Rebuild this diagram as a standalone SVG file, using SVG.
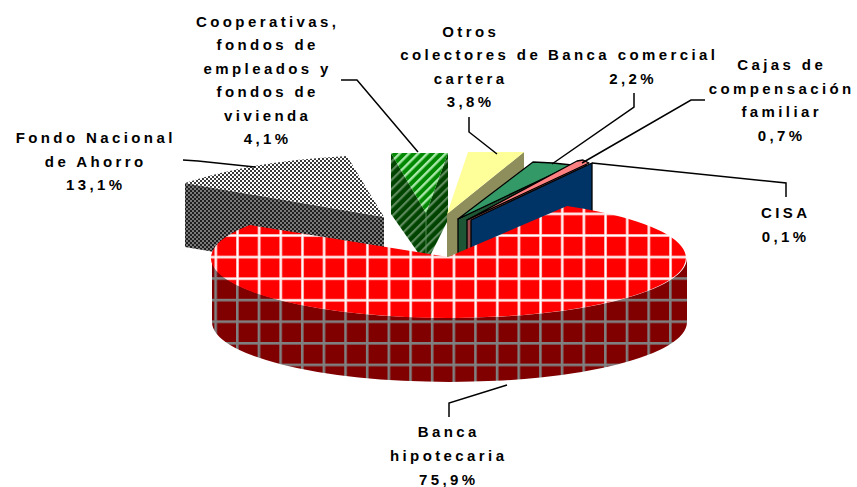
<svg xmlns="http://www.w3.org/2000/svg" width="857" height="487" viewBox="0 0 857 487">
  <style>
    .lbl { font-family: "Liberation Sans", Arial, sans-serif; font-weight: bold; font-size: 15px; letter-spacing: 3.4px; fill: #000; text-anchor: middle; }
    .lead { fill: none; stroke: #000; stroke-width: 1.5; }
    .edge { stroke: #000; stroke-width: 1.3; stroke-linejoin: round; }
  </style>
  <defs>
    <pattern id="redTop" patternUnits="userSpaceOnUse" x="19.5" y="18" width="21.65" height="21.6">
      <rect width="21.65" height="21.6" fill="#ff0000"/>
      <rect x="0" y="0" width="3" height="21.6" fill="#ff9a9a"/>
      <rect x="0" y="0" width="21.65" height="3" fill="#ff9a9a"/>
      <rect x="0.7" y="0" width="1.6" height="21.6" fill="#ffffff"/>
      <rect x="0" y="0.7" width="21.65" height="1.6" fill="#ffffff"/>
    </pattern>
    <pattern id="redSide" patternUnits="userSpaceOnUse" x="19.5" y="18" width="21.65" height="21.6">
      <rect width="21.65" height="21.6" fill="#800000"/>
      <rect x="0" y="0" width="2.6" height="21.6" fill="#808080"/>
      <rect x="0" y="0" width="21.65" height="2.6" fill="#808080"/>
    </pattern>
    <pattern id="greyTop" patternUnits="userSpaceOnUse" width="4" height="4">
      <rect width="4" height="4" fill="#ffffff"/>
      <rect x="0" y="0" width="2" height="2" fill="#3a3a3a"/>
      <rect x="2" y="2" width="2" height="2" fill="#3a3a3a"/>
    </pattern>
    <pattern id="greySide" patternUnits="userSpaceOnUse" width="4" height="4">
      <rect width="4" height="4" fill="#7a7a7a"/>
      <rect x="0" y="0" width="2" height="2" fill="#1e1e1e"/>
      <rect x="2" y="2" width="2" height="2" fill="#1e1e1e"/>
    </pattern>
    <pattern id="greenTop" patternUnits="userSpaceOnUse" width="6.5" height="6.5" patternTransform="rotate(45)">
      <rect width="6.5" height="6.5" fill="#008800"/>
      <rect x="0" width="2.4" height="6.5" fill="#a8e8a8"/>
    </pattern>
    <pattern id="greenSide" patternUnits="userSpaceOnUse" width="6.5" height="6.5" patternTransform="rotate(45)">
      <rect width="6.5" height="6.5" fill="#004400"/>
      <rect x="0" width="2.2" height="6.5" fill="#5e8a5e"/>
    </pattern>
  </defs>

  <rect width="857" height="487" fill="#ffffff"/>

  <g id="slice-fondo-nacional">
    <path d="M185,183 L384,217 L384,281 L185,247 Z" fill="url(#greySide)"/>
    <path d="M185,183 Q252,161 347,156 L384,217 Z" fill="url(#greyTop)"/>
  </g>

  <g id="slice-cooperativas">
    <path d="M391,153 L426,213 L426,264 L391,214 Z" fill="url(#greenSide)"/>
    <path d="M448,153 L426,213 L426,264 L448,220 Z" fill="url(#greenSide)"/>
    <line x1="426" y1="213" x2="426" y2="262" stroke="#6a9a6a" stroke-width="0.8"/>
    <path d="M391,153 L448,153 L426,213 Z" fill="url(#greenTop)"/>
  </g>

  <g id="slice-otros">
    <path d="M524,152 L447,214 L447,278 L524,216 Z" fill="#8e8e5c"/>
    <path d="M468,152 L524,152 L447,214 Z" fill="#ffff99"/>
  </g>

  <g id="slice-banca-comercial">
    <path class="edge" d="M458,219 L572,165 L572,229 L458,283 Z" fill="#1e5534"/>
    <path class="edge" d="M458,219 L533,162 L553,163 L572,165 Z" fill="#339966"/>
  </g>

  <g id="slice-cajas">
    <path class="edge" d="M467,220 L586,163 L586,227 L467,284 Z" fill="#9a4c4c"/>
    <path class="edge" stroke-width="1" d="M467,220 L577,161 L583,160 L589,163 Z" fill="#ff8080"/>
  </g>

  <g id="slice-cisa">
    <path class="edge" stroke-width="1.6" d="M471,220 L592,163 L592,227 L471,284 Z" fill="#003366"/>
  </g>

  <g id="slice-banca-hipotecaria">
    <path d="M212,258 A237.5,60 0 0 0 687,258 L687,322 A237.5,60 0 0 1 212,322 Z" fill="url(#redSide)"/>
    <path d="M448,257 L250,225 A237.5,60 0 1 0 567,206 Z" fill="url(#redTop)"/>
  </g>

  <g id="connectors">
    <polyline class="lead" points="183,160 198,161 255,167"/>
    <polyline class="lead" points="341,80 357,80 418,152"/>
    <polyline class="lead" points="469,117 469,132 497,154"/>
    <polyline class="lead" points="634,93 634,107 552,164"/>
    <polyline class="lead" points="705,100 691,100 582,163"/>
    <polyline class="lead" points="592,163 786,183 786,197"/>
    <polyline class="lead" points="507,385 449,403 449,417"/>
  </g>

  <g id="label-fondo-nacional">
    <text class="lbl" x="95.7" y="142.7">Fondo Nacional</text>
    <text class="lbl" x="95.7" y="166.5">de Ahorro</text>
    <text class="lbl" x="95.7" y="190">13,1%</text>
  </g>
  <g id="label-cooperativas">
    <text class="lbl" x="267.7" y="26.7">Cooperativas,</text>
    <text class="lbl" x="267.7" y="50.1">fondos de</text>
    <text class="lbl" x="267.7" y="73.6">empleados y</text>
    <text class="lbl" x="267.7" y="97">fondos de</text>
    <text class="lbl" x="267.7" y="120.5">vivienda</text>
    <text class="lbl" x="267.7" y="144">4,1%</text>
  </g>
  <g id="label-otros">
    <text class="lbl" x="470.7" y="36.5">Otros</text>
    <text class="lbl" x="470.7" y="60">colectores de</text>
    <text class="lbl" x="470.7" y="83.5">cartera</text>
    <text class="lbl" x="470.7" y="107">3,8%</text>
  </g>
  <g id="label-banca-comercial">
    <text class="lbl" x="633.2" y="60">Banca comercial</text>
    <text class="lbl" x="633.2" y="83.5">2,2%</text>
  </g>
  <g id="label-cajas">
    <text class="lbl" x="781.7" y="70">Cajas de</text>
    <text class="lbl" x="781.7" y="93.7">compensación</text>
    <text class="lbl" x="781.7" y="117.3">familiar</text>
    <text class="lbl" x="781.7" y="141">0,7%</text>
  </g>
  <g id="label-cisa">
    <text class="lbl" x="785.7" y="218">CISA</text>
    <text class="lbl" x="785.7" y="241.5">0,1%</text>
  </g>
  <g id="label-banca-hipotecaria">
    <text class="lbl" x="448.7" y="437.3">Banca</text>
    <text class="lbl" x="448.7" y="461">hipotecaria</text>
    <text class="lbl" x="448.7" y="484.5">75,9%</text>
  </g>
</svg>
